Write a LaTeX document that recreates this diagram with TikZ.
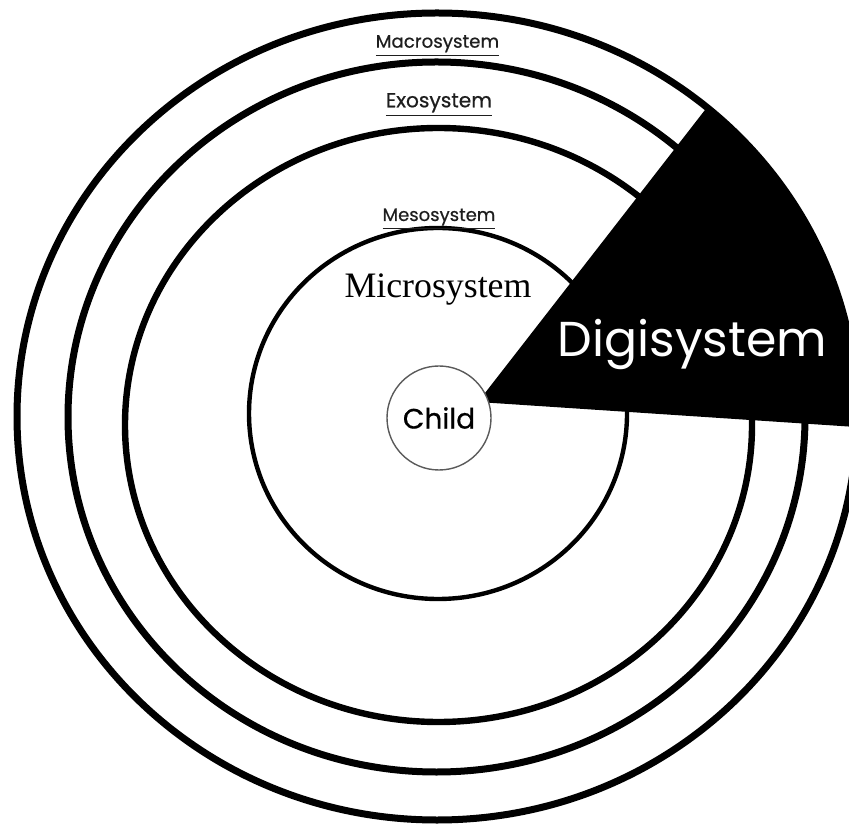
\documentclass[tikz,border=0pt]{standalone}
\usepackage{fontspec}
\usepackage{tikz}
\usetikzlibrary{shapes.geometric}
\newfontfamily\tagfont{Poppins}
\newfontfamily\tagfontmid{Poppins}[FakeBold=0.6]
\newfontfamily\bookfont{Liberation Serif}
\definecolor{EcoInk}{HTML}{000000}
\definecolor{EcoTag}{HTML}{1E1E1E}
\definecolor{EcoRim}{HTML}{5A5A5A}

\begin{document}
\begin{tikzpicture}[
    x=0.5pt,y=0.5pt,
    sysring/.style={draw=EcoInk,ellipse,inner sep=0pt,line width=3.5pt},
    tag/.style={text=EcoTag,anchor=base,inner sep=0pt}
  ]
    \useasboundingbox (0,0) rectangle (849,824);
    \node[sysring,minimum width=420pt,minimum height=403.5pt] (macro) at (437,407.5) {};
    \node[sysring,minimum width=368.5pt,minimum height=355pt] (exo) at (436.5,407) {};
    \node[sysring,line width=3.2pt,minimum width=313.5pt,minimum height=297pt] (meso) at (438.5,399) {};
    \node[sysring,line width=2.2pt,minimum width=189pt,minimum height=185.5pt] (micro) at (438,410.5) {};
    \coordinate (apex) at (478,422);
    \fill[EcoInk] (apex) -- ([shift={(50:420 and 403.5)}]macro.center)
      arc[start angle=50,end angle=-1.5,x radius=420,y radius=403.5] -- cycle;
    \node[circle,draw=EcoRim,fill=white,line width=0.7pt,minimum size=52pt,inner sep=0pt,
      font=\tagfontmid\fontsize{14}{17}\selectfont] (child) at (439,406) {Child};
    \node[tag,font=\tagfontmid\fontsize{9.1}{11}\selectfont] (macrotag) at (437.5,776.3) {\underline{Macrosystem}};
    \node[tag,font=\tagfontmid\fontsize{10.1}{12}\selectfont] (exotag) at (439,716.7) {\underline{Exosystem}};
    \node[tag,font=\tagfontmid\fontsize{9}{11}\selectfont] (mesotag) at (439,603) {\underline{Mesosystem}};
    \node[tag,text=EcoInk,font=\bookfont\fontsize{17.9}{21}\selectfont] (microtag) at (438,526) {Microsystem};
    \node[tag,text=white,font=\tagfont\fontsize{24.5}{28}\selectfont] (digi) at (692.5,467) {Digisystem};
  \end{tikzpicture}
\end{document}
